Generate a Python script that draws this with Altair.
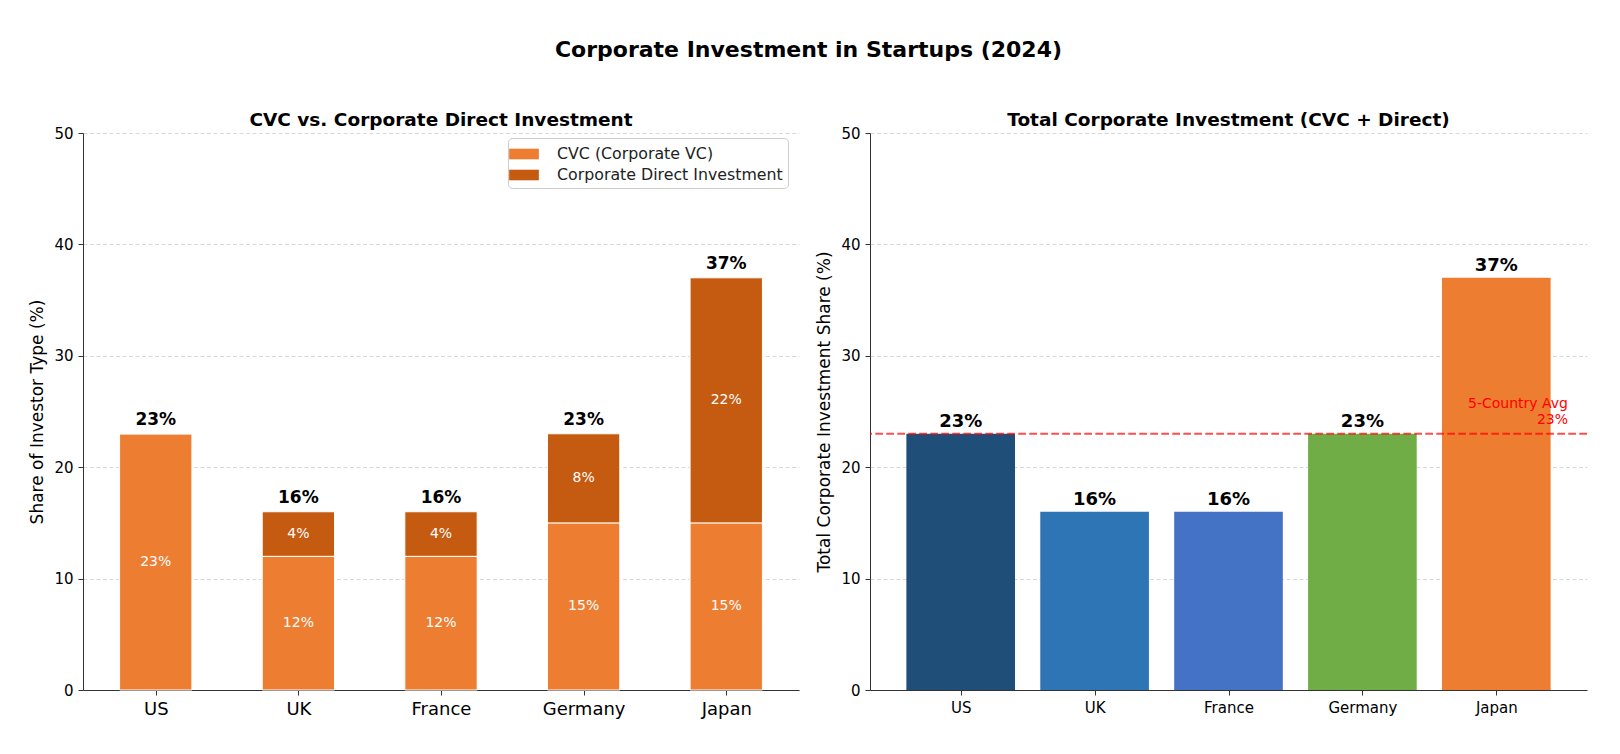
import altair as alt
import pandas as pd

countries = ["US", "UK", "France", "Germany", "Japan"]
cvc = [23, 12, 12, 15, 15]
direct = [0, 4, 4, 8, 22]
totals = [23, 16, 16, 23, 37]
bar_colors = ["#1F4E79", "#2E75B6", "#4472C4", "#70AD47", "#ED7D31"]
series_names = ["CVC (Corporate VC)", "Corporate Direct Investment"]
series_colors = ["#ED7D31", "#C55A11"]
avg_value = sum(totals) / len(totals)

FONT = "DejaVu Sans"

rows = []
for i, c in enumerate(countries):
    rows.append({"idx": i, "country": c, "series": series_names[0], "value": cvc[i], "order": 0,
                 "start": 0, "end": cvc[i], "mid": cvc[i] / 2})
    rows.append({"idx": i, "country": c, "series": series_names[1], "value": direct[i], "order": 1,
                 "start": cvc[i], "end": cvc[i] + direct[i], "mid": cvc[i] + direct[i] / 2})
long_df = pd.DataFrame(rows)
tot_df = pd.DataFrame({"idx": list(range(len(countries))), "country": countries, "total": totals,
                       "label": [f"{t}%" for t in totals], "color": bar_colors})
seg_df = long_df[long_df["value"] > 0].copy()
seg_df["label"] = seg_df["value"].map(lambda v: f"{v}%")

W, H = 716, 557
n = len(countries)


# matplotlib-like x extents: bar width w, 5% margins on each side
def xdomain(w):
    lo, hi = -w / 2, (n - 1) + w / 2
    m = 0.05 * (hi - lo)
    return [lo - m, hi + m]


LW, RW = 0.5, 0.8
xl_dom, xr_dom = xdomain(LW), xdomain(RW)
left_bar_px = LW * W / (xl_dom[1] - xl_dom[0])
right_bar_px = RW * (W + 1) / (xr_dom[1] - xr_dom[0])

label_expr = "[" + ",".join(f"'{c}'" for c in countries) + "][datum.value]"
yscale = alt.Scale(domain=[0, 50])


def yaxis():
    return alt.Axis(values=[0, 10, 20, 30, 40, 50], labelFontSize=15, titleFontSize=17,
                    titleFontWeight="normal", grid=True, gridDash=[4, 2.5], gridColor="#d9d9d9",
                    domainColor="#333", tickColor="#333", labelColor="black", titlePadding=7,
                    titleColor="black", labelFont=FONT, titleFont=FONT, tickSize=5,
                    labelPadding=5)


def xaxis(fs):
    return alt.Axis(values=list(range(n)), labelExpr=label_expr, labelAngle=0, labelFontSize=fs,
                    labelPadding=5, domainColor="#333", tickColor="#333", labelColor="black",
                    grid=False, labelFont=FONT, tickSize=5, labelFlush=False)


def xl():
    return alt.X("idx:Q", scale=alt.Scale(domain=xl_dom, nice=False, zero=False), title=None,
                 axis=xaxis(18))


def xr():
    return alt.X("idx:Q", scale=alt.Scale(domain=xr_dom, nice=False, zero=False), title=None,
                 axis=xaxis(15))


# Left chart: stacked CVC + direct
bars_l = alt.Chart(long_df).mark_bar(stroke="white", strokeWidth=1, size=left_bar_px).encode(
    x=xl(),
    y=alt.Y("start:Q", scale=yscale, title="Share of Investor Type (%)", axis=yaxis()),
    y2="end:Q",
    color=alt.Color("series:N", scale=alt.Scale(domain=series_names, range=series_colors),
                    title=None,
                    legend=alt.Legend(orient="none", legendX=425, legendY=5,
                                      symbolType="M-1.4,-0.5H1.4V0.5H-1.4Z",
                                      symbolSize=450, symbolStrokeWidth=0,
                                      labelFontSize=15.8, padding=5, labelLimit=0,
                                      labelOffset=22, strokeColor="#cccccc", fillColor="white",
                                      cornerRadius=4, rowPadding=2, labelColor="#222",
                                      labelFont=FONT)),
    order="order:Q",
)
seg_text = alt.Chart(seg_df).mark_text(color="white", fontSize=14, font=FONT).encode(
    x=xl(), y=alt.Y("mid:Q", scale=yscale, axis=yaxis(), title="Share of Investor Type (%)"),
    text="label:N"
)
tot_text_l = alt.Chart(tot_df).mark_text(fontSize=17, fontWeight="bold", baseline="alphabetic",
                                          dy=-9, color="black", font=FONT).encode(
    x=xl(), y=alt.Y("total:Q", scale=yscale, axis=yaxis(), title="Share of Investor Type (%)"),
    text="label:N"
)
left = alt.layer(bars_l, seg_text, tot_text_l).properties(
    width=W, height=H,
    title=alt.TitleParams("CVC vs. Corporate Direct Investment", fontSize=18.5, fontWeight="bold",
                          font=FONT, offset=-3, color="black"),
)

# Right chart: totals
RTITLE = "Total Corporate Investment Share (%)"
bars_r = alt.Chart(tot_df).mark_bar(size=right_bar_px).encode(
    x=xr(),
    y=alt.Y("total:Q", scale=yscale, title=RTITLE, axis=yaxis()),
    color=alt.Color("color:N", scale=None),
)
tot_text_r = alt.Chart(tot_df).mark_text(fontSize=18, fontWeight="bold", baseline="alphabetic",
                                          dy=-7, color="black", font=FONT).encode(
    x=xr(), y=alt.Y("total:Q", scale=yscale, title=RTITLE, axis=yaxis()), text="label:N"
)
avg_df = pd.DataFrame({"avg": [avg_value], "label": [f"5-Country Avg\n{avg_value:.0f}%"]})
avg_rule = alt.Chart(avg_df).mark_rule(color="red", strokeDash=[7.7, 3.3], strokeWidth=2,
                                        opacity=0.7).encode(
    y=alt.Y("avg:Q", scale=yscale, title=RTITLE, axis=yaxis())
)
avg_text = alt.Chart(avg_df).mark_text(color="red", fontSize=14, align="right", baseline="bottom",
                                        lineBreak="\n", dy=-23, font=FONT, lineHeight=16.5).encode(
    x=alt.value(W - 18), y=alt.Y("avg:Q", scale=yscale, title=RTITLE, axis=yaxis()),
    text="label:N"
)
right = alt.layer(bars_r, tot_text_r, avg_rule, avg_text).properties(
    width=W + 1, height=H,
    title=alt.TitleParams("Total Corporate Investment (CVC + Direct)", fontSize=18.5,
                          fontWeight="bold", font=FONT, offset=-3, color="black"),
)

chart = alt.hconcat(left, right, spacing=15).properties(
    title=alt.TitleParams("Corporate Investment in Startups (2024)", fontSize=22, fontWeight="bold",
                          font=FONT, anchor="middle", offset=48, color="black"),
    padding={"left": 20, "top": 31, "right": 10, "bottom": 0},
).configure_view(stroke="transparent")

chart.save("out.html", embed_options={"renderer": "svg", "actions": False})
